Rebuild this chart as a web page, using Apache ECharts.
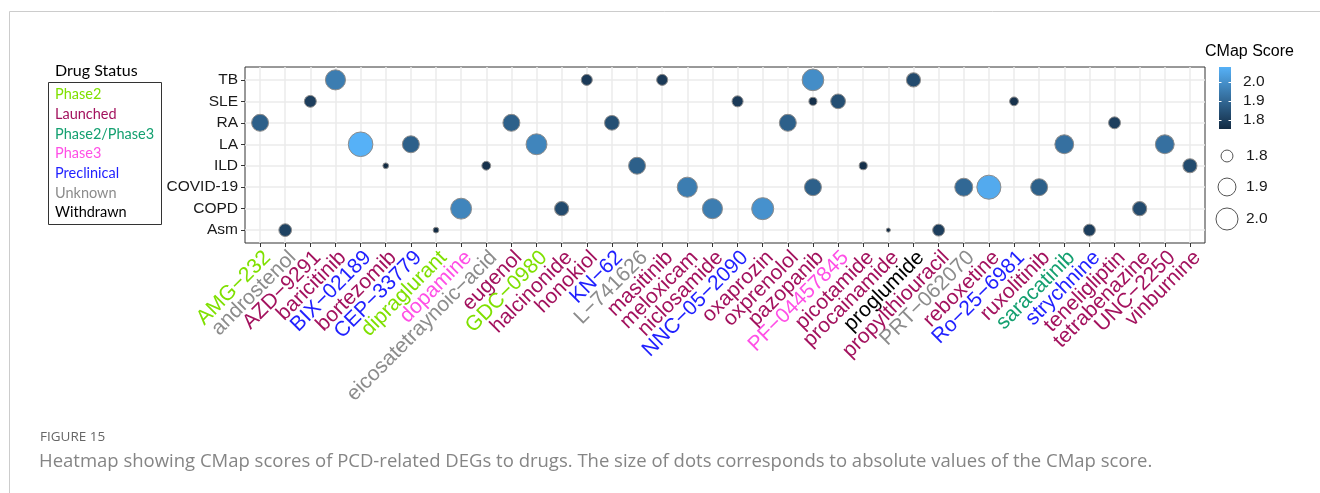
<!DOCTYPE html>
<html>
<head>
<meta charset="utf-8">
<script src="https://cdn.jsdelivr.net/npm/echarts@6/dist/echarts.min.js"></script>
<style>
  html, body { margin: 0; padding: 0; background: #ffffff; }
  #chart { width: 1320px; height: 493px; }
</style>
</head>
<body>
<div id="chart"></div>
<script>
// Drugs on the x axis, in plotting order, with their development status
const drugs = [
  'AMG-232', 'androstenol', 'AZD-9291', 'baricitinib', 'BIX-02189', 'bortezomib',
  'CEP-33779', 'dipraglurant', 'dopamine', 'eicosatetraynoic-acid', 'eugenol',
  'GDC-0980', 'halcinonide', 'honokiol', 'KN-62', 'L-741626', 'masitinib',
  'meloxicam', 'niclosamide', 'NNC-05-2090', 'oxaprozin', 'oxprenolol', 'pazopanib',
  'PF-04457845', 'picotamide', 'procainamide', 'proglumide', 'propylthiouracil',
  'PRT-062070', 'reboxetine', 'Ro-25-6981', 'ruxolitinib', 'saracatinib',
  'strychnine', 'teneligliptin', 'tetrabenazine', 'UNC-2250', 'vinburnine'
];
const drugStatus = [
  'Phase2', 'Unknown', 'Launched', 'Launched', 'Preclinical', 'Launched',
  'Preclinical', 'Phase2', 'Phase3', 'Unknown', 'Launched',
  'Phase2', 'Launched', 'Launched', 'Preclinical', 'Unknown', 'Launched',
  'Launched', 'Launched', 'Preclinical', 'Launched', 'Launched', 'Launched',
  'Phase3', 'Launched', 'Launched', 'Withdrawn', 'Launched',
  'Unknown', 'Launched', 'Preclinical', 'Launched', 'Phase2/Phase3',
  'Preclinical', 'Launched', 'Launched', 'Launched', 'Launched'
];

// Diseases on the y axis, top to bottom
const diseases = ['TB', 'SLE', 'RA', 'LA', 'ILD', 'COVID-19', 'COPD', 'Asm'];

// Status legend
const statusNames  = ['Phase2', 'Launched', 'Phase2/Phase3', 'Phase3', 'Preclinical', 'Unknown', 'Withdrawn'];
const statusColors = ['#7fe000', '#a3125e', '#14a070', '#ff4fe6', '#1f1fff', '#8c8c8c', '#000000'];

// Drug–disease pairs and their CMap scores
const hitDrug = [
  'AMG-232', 'androstenol', 'AZD-9291', 'baricitinib', 'BIX-02189', 'bortezomib',
  'CEP-33779', 'dipraglurant', 'dopamine', 'eicosatetraynoic-acid', 'eugenol',
  'GDC-0980', 'halcinonide', 'honokiol', 'KN-62', 'L-741626', 'masitinib',
  'meloxicam', 'niclosamide', 'NNC-05-2090', 'oxaprozin', 'oxprenolol',
  'pazopanib', 'pazopanib', 'pazopanib', 'PF-04457845', 'picotamide',
  'procainamide', 'proglumide', 'propylthiouracil', 'PRT-062070', 'reboxetine',
  'Ro-25-6981', 'ruxolitinib', 'saracatinib', 'strychnine', 'teneligliptin',
  'tetrabenazine', 'UNC-2250', 'vinburnine'
];
const hitDisease = [
  'RA', 'Asm', 'SLE', 'TB', 'LA', 'ILD',
  'LA', 'Asm', 'COPD', 'ILD', 'RA',
  'LA', 'COPD', 'TB', 'RA', 'ILD', 'TB',
  'COVID-19', 'COPD', 'SLE', 'COPD', 'RA',
  'TB', 'SLE', 'COVID-19', 'SLE', 'ILD',
  'Asm', 'TB', 'Asm', 'COVID-19', 'COVID-19',
  'SLE', 'COVID-19', 'LA', 'Asm', 'RA',
  'COPD', 'LA', 'ILD'
];
const hitScore = [
  1.88, 1.81, 1.80, 1.95, 2.076, 1.755,
  1.88, 1.755, 1.97, 1.77, 1.88,
  1.97, 1.83, 1.79, 1.84, 1.88, 1.79,
  1.95, 1.95, 1.79, 2.00, 1.88,
  1.99, 1.765, 1.88, 1.84, 1.765,
  1.753, 1.83, 1.80, 1.90, 2.06,
  1.77, 1.88, 1.92, 1.80, 1.80,
  1.83, 1.92, 1.83
];

// Legend breaks
const colorTicks = [2.0, 1.9, 1.8];
const sizeTicks = [1.8, 1.9, 2.0];

const LOW_COLOR = '#132B43';
const HIGH_COLOR = '#56B1F7';
const AXIS_FONT = '"Liberation Sans", Arial, sans-serif';
const LEGEND_FONT = 'Lato, "Open Sans", sans-serif';

const scoreMin = Math.min(...hitScore);
const scoreMax = Math.max(...hitScore);

// Dot diameter grows with the square root of the rescaled score (area scale)
function dotSize(v) {
  const t = Math.max(0, (v - scoreMin) / (scoreMax - scoreMin));
  return 4.1 + 20.5 * Math.sqrt(t);
}

const points = hitScore.map((s, i) => [drugs.indexOf(hitDrug[i]), diseases.indexOf(hitDisease[i]), s]);

const minusLabel = s => s.replace(/-/g, '\u2212');

const rich = {};
statusNames.forEach((n, i) => {
  rich['s' + i] = { color: statusColors[i], fontSize: 21, fontFamily: AXIS_FONT };
});

// Axis ranges: discrete positions padded by 0.6 of a step on each side
const X_PAD = 0.6;
const xMin = -X_PAD, xMax = drugs.length - 1 + X_PAD;
const yMin = -X_PAD, yMax = diseases.length - 1 + X_PAD;
const xTickValues = drugs.map((d, i) => i);
const yTickValues = diseases.map((d, i) => i);

// Panel geometry
const PANEL = { left: 245, top: 67, width: 960, height: 176 };

// Colour bar geometry
const CB = { x: 1219, y: 67, w: 12, h: 62 };
const cbY = v => CB.y + CB.h - (v - scoreMin) / (scoreMax - scoreMin) * CB.h;

const graphics = [];

// Page frame
graphics.push({ type: 'line', shape: { x1: 9.5, y1: 11.5, x2: 1320, y2: 11.5 }, style: { stroke: '#cccccc', lineWidth: 1 } });
graphics.push({ type: 'line', shape: { x1: 9.5, y1: 11.5, x2: 9.5, y2: 493 }, style: { stroke: '#cccccc', lineWidth: 1 } });

// Drug status legend
graphics.push({ type: 'text', x: 55, y: 70.5, style: { text: 'Drug Status', fontSize: 16, fontFamily: LEGEND_FONT, fill: '#000', verticalAlign: 'middle' } });
graphics.push({ type: 'rect', shape: { x: 48.5, y: 82.5, width: 113, height: 142 }, style: { fill: 'none', stroke: '#333', lineWidth: 1 } });
statusNames.forEach((n, i) => {
  graphics.push({
    type: 'text', x: 55, y: 94.5 + i * 19.7,
    style: { text: n, fontSize: 14.5, fontFamily: LEGEND_FONT, fill: statusColors[i], verticalAlign: 'middle' }
  });
});

// Colour bar legend
graphics.push({ type: 'text', x: 1205, y: 51.5, style: { text: 'CMap Score', fontSize: 16, fontFamily: AXIS_FONT, fill: '#000', verticalAlign: 'middle' } });
graphics.push({
  type: 'rect', shape: { x: CB.x, y: CB.y, width: CB.w, height: CB.h },
  style: { fill: new echarts.graphic.LinearGradient(0, 1, 0, 0, [
    { offset: 0, color: LOW_COLOR }, { offset: 1, color: HIGH_COLOR }
  ]) }
});
colorTicks.forEach(v => {
  const y = Math.round(cbY(v)) + 0.5;
  graphics.push({ type: 'line', shape: { x1: CB.x, y1: y, x2: CB.x + 2.5, y2: y }, style: { stroke: '#ffffff', lineWidth: 1 } });
  graphics.push({ type: 'line', shape: { x1: CB.x + CB.w - 2.5, y1: y, x2: CB.x + CB.w, y2: y }, style: { stroke: '#ffffff', lineWidth: 1 } });
  graphics.push({ type: 'text', x: 1243, y: cbY(v), style: { text: v.toFixed(1), fontSize: 15.5, fontFamily: AXIS_FONT, fill: '#1a1a1a', verticalAlign: 'middle' } });
});

// Size legend
const sizeY = [156, 187, 219];
sizeTicks.forEach((v, i) => {
  graphics.push({ type: 'circle', shape: { cx: 1227, cy: sizeY[i], r: dotSize(v) / 2 }, style: { fill: '#ffffff', stroke: '#555555', lineWidth: 1 } });
  graphics.push({ type: 'text', x: 1246, y: sizeY[i], style: { text: v.toFixed(1), fontSize: 15.5, fontFamily: AXIS_FONT, fill: '#1a1a1a', verticalAlign: 'middle' } });
});

// Caption
graphics.push({ type: 'text', x: 40, y: 437, style: { text: 'FIGURE 15', fontSize: 13.5, fontFamily: '"Open Sans", sans-serif', fill: '#666666', verticalAlign: 'middle' } });
graphics.push({ type: 'text', x: 39, y: 462, style: {
  text: 'Heatmap showing CMap scores of PCD-related DEGs to drugs. The size of dots corresponds to absolute values of the CMap score.',
  fontSize: 18.5, fontFamily: '"Open Sans", sans-serif', fill: '#858585', verticalAlign: 'middle' } });

const chart = echarts.init(document.getElementById('chart'), null, { renderer: 'canvas' });
chart.setOption({
  animation: false,
  backgroundColor: '#ffffff',
  grid: {
    left: PANEL.left, top: PANEL.top, width: PANEL.width, height: PANEL.height,
    show: true, borderColor: '#333333', borderWidth: 1, backgroundColor: 'transparent',
    containLabel: false
  },
  xAxis: {
    type: 'value',
    min: xMin, max: xMax,
    axisLine: { show: false, onZero: false },
    axisTick: { show: true, length: 4, lineStyle: { color: '#333333', width: 1 }, customValues: xTickValues },
    splitLine: { show: true, lineStyle: { color: '#ebebeb', width: 1.5 } },
    axisLabel: {
      // the padded ends carry empty labels so that every drug name is kept
      customValues: [xMin].concat(xTickValues, [xMax]),
      showMinLabel: false, showMaxLabel: false, hideOverlap: false,
      rotate: 45, margin: 4, verticalAlign: 'top',
      formatter: v => {
        const i = Math.round(v);
        if (Math.abs(v - i) > 1e-6) return '';
        return '{s' + statusNames.indexOf(drugStatus[i]) + '|' + minusLabel(drugs[i]) + '}';
      },
      rich: rich
    }
  },
  yAxis: {
    type: 'value', inverse: true,
    min: yMin, max: yMax,
    axisLine: { show: false, onZero: false },
    axisTick: { show: true, length: 4, lineStyle: { color: '#333333', width: 1 }, customValues: yTickValues },
    splitLine: { show: true, lineStyle: { color: '#ebebeb', width: 1.5 } },
    axisLabel: {
      customValues: yTickValues,
      showMinLabel: true, showMaxLabel: true,
      margin: 7, fontSize: 15.5, fontFamily: AXIS_FONT, color: '#1a1a1a',
      formatter: v => diseases[Math.round(v)]
    }
  },
  visualMap: {
    show: false, type: 'continuous', seriesIndex: 0, dimension: 2,
    min: scoreMin, max: scoreMax,
    inRange: { color: [LOW_COLOR, HIGH_COLOR] }
  },
  series: [{
    type: 'scatter',
    data: points,
    symbol: 'circle',
    symbolSize: val => dotSize(val[2]),
    itemStyle: { borderColor: '#8c8c8c', borderWidth: 1, opacity: 1 },
    z: 3
  }],
  graphic: graphics
});
</script>
</body>
</html>
